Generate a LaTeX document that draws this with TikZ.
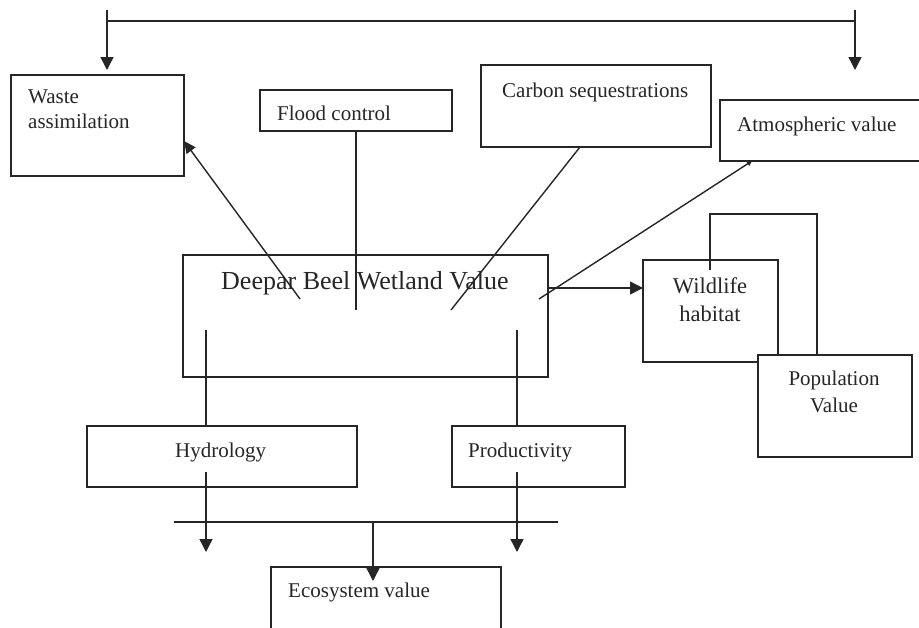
\documentclass[tikz,border=0pt]{standalone}
\usepackage{fontspec}
\setmainfont{Liberation Serif}
\usetikzlibrary{arrows.meta}
\begin{document}
\begin{tikzpicture}[x=1pt,y=-1pt,
  box/.style={draw=black!85,line width=1.7pt,fill=white},
  txt/.style={inner sep=0pt,font=\fontsize{21}{25}\selectfont,text=black!85},
  conn/.style={draw=black!85,line width=1.4pt},
  arr/.style={conn,-{Triangle[width=13pt,length=13pt]}},
  smallarr/.style={conn,-{Triangle[width=5pt,length=5pt]}}]
\useasboundingbox[fill=white] (0,0) rectangle (919,627);
% boxes
\path[box] (11,75) rectangle (184,176); \coordinate (wasteR) at (184,141);
\node[inner sep=0,minimum width=173pt,minimum height=101pt] (waste) at (97.5,125.5) {};
\draw[box] (260,90) rectangle (452,131);
\node[inner sep=0,minimum width=192pt,minimum height=41pt] (flood) at (356,110.5) {};
\draw[box] (481,65) rectangle (711,147);
\node[inner sep=0,minimum width=230pt,minimum height=82pt] (carbon) at (596,106) {};
\draw[box] (720,100) rectangle (930,161);
\node[inner sep=0,minimum width=210pt,minimum height=61pt] (atmos) at (825,130.5) {};
\draw[box] (183,255) rectangle (548,377);
\node[inner sep=0,minimum width=365pt,minimum height=122pt] (main) at (365.5,316) {};
\draw[box] (643,260) rectangle (778,362);
\node[inner sep=0,minimum width=135pt,minimum height=102pt] (wild) at (710.5,311) {};
\draw[box] (87,426) rectangle (357,487);
\node[inner sep=0,minimum width=270pt,minimum height=61pt] (hydro) at (222,456.5) {};
\draw[box] (452,426) rectangle (625,487);
\node[inner sep=0,minimum width=173pt,minimum height=61pt] (prod) at (538.5,456.5) {};
\draw[box] (271,567) rectangle (501,640);
\node[inner sep=0,minimum width=230pt,minimum height=73pt] (eco) at (386,603.5) {};
% texts
\node[txt,anchor=base west] (tflood) at (277,120) {Flood control};
\node[txt,anchor=base west] (tcarbon) at (502,97) {Carbon sequestrations};
\node[txt,anchor=base west] (tatmos) at (737,131) {Atmospheric value};
\node[txt,anchor=base west,font=\fontsize{26}{30}\selectfont] (tmain) at (221,289) {Deepar Beel Wetland Value};
\node[txt,anchor=base west] (thydro) at (175,457) {Hydrology};
\node[txt,anchor=base west] (tprod) at (468,457) {Productivity};
\node[txt,anchor=base west] (teco) at (288,597) {Ecosystem value};
\node[txt,anchor=north west,align=left,font=\fontsize{21}{25}\selectfont] (twaste) at (28,90) {Waste\\assimilation};
% top bracket
\coordinate (tl) at (107,10); \coordinate (tr) at (855,10);
\coordinate (tlj) at (107,21); \coordinate (trj) at (855,21);
\coordinate (tlh) at (107,70); \coordinate (trh) at (855,70);
\draw[conn] (tlj) -- (trj);
\draw[arr] (tl) -- (tlh);
\draw[arr] (tr) -- (trh);
% connectors from main box
\coordinate (m1) at (300,299);
\draw[conn,-{Triangle[width=11pt,length=12pt]}] (m1) -- (wasteR);
\coordinate (m2) at (356,310);
\draw[conn] (flood.south) -- (m2);
\coordinate (m3) at (451,310); \coordinate (carbB) at (580,147);
\draw[conn] (carbB) -- (m3);
\coordinate (m4) at (539,299); \coordinate (atmB) at (752,161);
\draw[smallarr] (m4) -- (atmB);
\coordinate (m5) at (548,288); \coordinate (wildL) at (643,288);
\draw[arr] (m5) -- (wildL);
% wildlife - population bracket
\coordinate (w1) at (710,270);
\coordinate (w2) at (710,214);
\coordinate (w3) at (817,214);
\draw[box] (758,355) rectangle (912,457);
\node[inner sep=0,minimum width=154pt,minimum height=102pt] (pop) at (835,406) {};
\draw[conn] (w1) -- (w2) -- (w3) -- (w3 |- pop.north);
\node[txt,anchor=north,align=center,font=\fontsize{22.5}{28}\selectfont] (twild) at (710,277) {Wildlife\\habitat};
\node[txt,anchor=north,align=center,font=\fontsize{21}{27}\selectfont] (tpop) at (834,371) {Population\\Value};
% lower connectors
\coordinate (m6) at (206,330); \coordinate (m7) at (517,330);
\draw[conn] (m6) -- (m6 |- hydro.north);
\draw[conn] (m7) -- (m7 |- prod.north);
\coordinate (h1) at (206,472); \coordinate (h2) at (206,552);
\coordinate (p1) at (517,472); \coordinate (p2) at (517,552);
\draw[arr] (h1) -- (h2);
\draw[arr] (p1) -- (p2);
\coordinate (b1) at (174,522); \coordinate (b2) at (558,522); \coordinate (b3) at (373,522);
\draw[conn] (b1) -- (b2);
\coordinate (ecoT) at (373,581);
\draw[arr] (b3) -- (ecoT);
\end{tikzpicture}
\end{document}
